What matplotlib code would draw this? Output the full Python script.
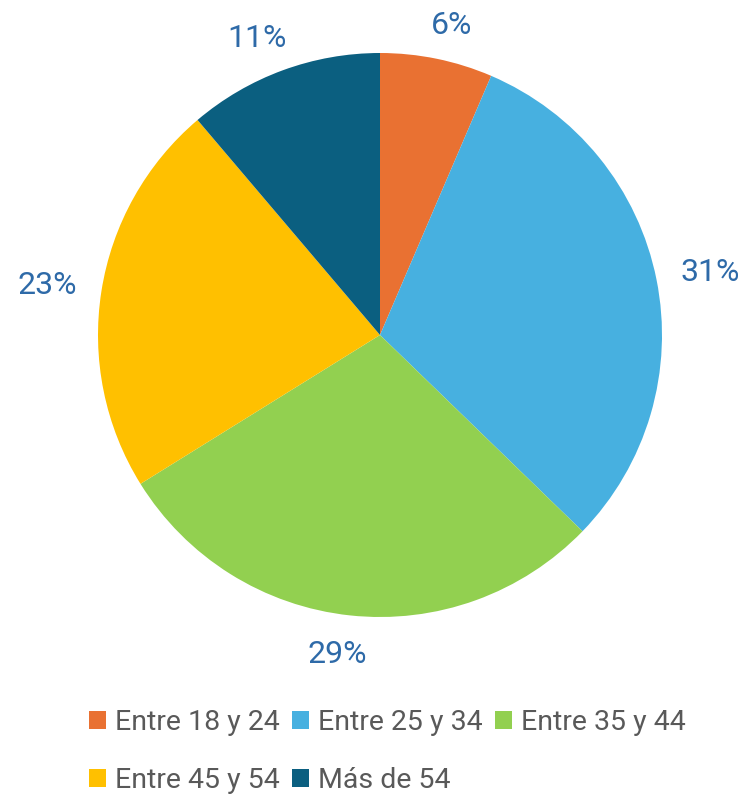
import matplotlib
matplotlib.use("Agg")
import numpy as np
import matplotlib.pyplot as plt
from matplotlib.patches import Patch

categories = ["Entre 18 y 24", "Entre 25 y 34", "Entre 35 y 44", "Entre 45 y 54", "Más de 54"]
values = [6.45, 30.8, 28.9, 22.65, 11.2]
colors = ["#E97132", "#47B0E0", "#92D050", "#FFC000", "#0B5F80"]

plt.rcParams['font.family'] = ['Roboto', 'DejaVu Sans']

fig = plt.figure(figsize=(7.48, 7.97), dpi=100)
W, H = 748, 797
cx, cy, r = 380, 335, 282
ax = fig.add_axes([(cx - r) / W, (H - cy - r) / H, 2 * r / W, 2 * r / H])

wedges, texts = ax.pie(values, colors=colors, startangle=90, counterclock=False,
                       wedgeprops=dict(linewidth=0), radius=1)
ax.set_xlim(-1, 1)
ax.set_ylim(-1, 1)
ax.set_aspect('equal')
ax.axis('off')

# Outside-end labels, placed from each wedge's mid angle
total = sum(values)
renderer = fig.canvas.get_renderer()
gap = 25.0 / r
cap = 23.0 / r
for w, v in zip(wedges, values):
    th = np.deg2rad((w.theta1 + w.theta2) / 2)
    ux, uy = np.cos(th), np.sin(th)
    t = ax.text(0, 0, f"{100 * v / total:.0f}%", color="#2E6AA8", fontsize=23,
                ha='center', va='baseline')
    tw = t.get_window_extent(renderer).width / r
    fx = np.sign(ux) * np.sqrt(abs(ux))
    fy = np.sign(uy) * np.sqrt(abs(uy))
    px = (1 + gap) * ux + tw / 2 * fx
    py = (1 + gap) * uy + cap / 2 * fy
    t.set_position((px, py - cap / 2))

handles = [Patch(facecolor=c, edgecolor='none') for c in colors]
order = [0, 3, 1, 4, 2]
leg = fig.legend([handles[i] for i in order], [categories[i] for i in order],
                 ncol=3, loc='upper left', bbox_to_anchor=(89 / W, 1 - 709 / H),
                 frameon=False, fontsize=20.5, handlelength=0.58, handleheight=0.58,
                 handletextpad=0.32, columnspacing=0.45, labelspacing=1.1,
                 borderaxespad=0, borderpad=0)
for t in leg.get_texts():
    t.set_color("#595959")

fig.savefig("out.png", dpi=100)
